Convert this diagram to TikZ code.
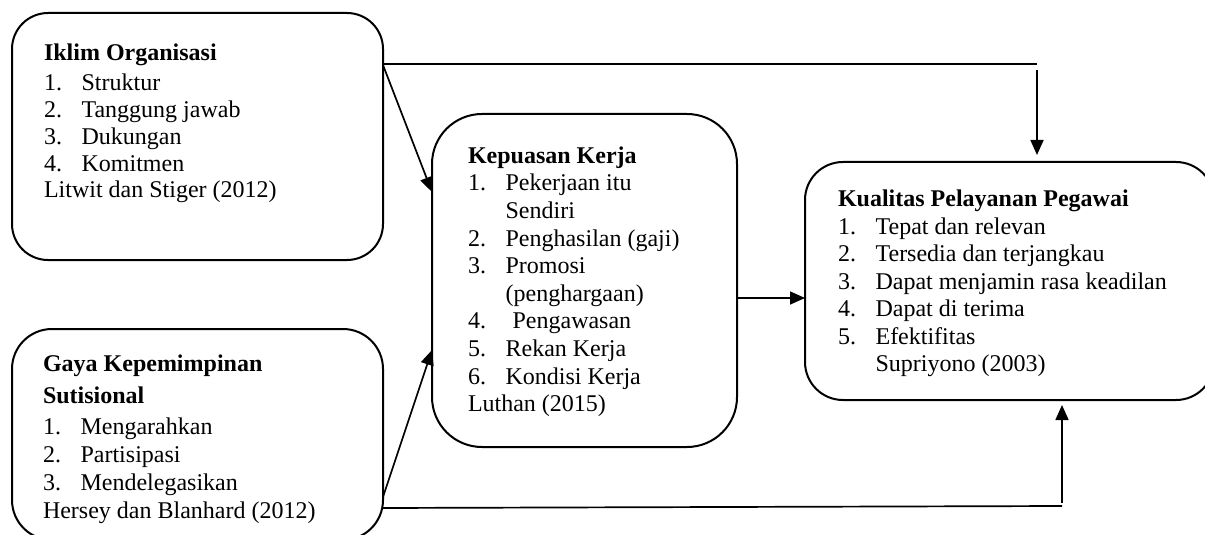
\documentclass[tikz,border=0pt]{standalone}
\usepackage{fontspec}
\setmainfont{Liberation Serif}
\usetikzlibrary{arrows.meta,calc}
\newcommand{\itm}[2]{\makebox[18.8pt][l]{#1}#2}
\newcommand{\cont}[1]{\hspace*{18.8pt}#1}
\begin{document}
\begin{tikzpicture}[x=0.5pt,y=-0.5pt,
  box/.style={draw=black,line width=1pt,inner sep=0pt,outer sep=0pt},
  txt/.style={inner sep=0pt,outer sep=0pt,align=left,anchor=base west},
  conn/.style={line width=0.85pt,draw=black},
  arr/.style={conn,-{Triangle[length=7.5pt,width=6.5pt]}}]
\useasboundingbox (0,0) rectangle (1205,535);
% boxes
\node[box,minimum width=185.5pt,minimum height=123.5pt,rounded corners=18pt] (A) at (197.5,136.5) {};
\node[box,minimum width=185.5pt,minimum height=105.5pt,rounded corners=20pt] (B) at (197.5,434.5) {};
\node[box,minimum width=152.5pt,minimum height=166.5pt,rounded corners=25pt] (C) at (584.5,280.5) {};
\node[box,minimum width=204.5pt,minimum height=119pt,rounded corners=19pt] (D) at (1009.5,281) {};
% texts (anchored at the baseline of their last line)
\node[txt,font=\fontsize{12}{13.35}\selectfont] (tA) at (44,197.7) {\textbf{Iklim Organisasi}\\[2pt]
\itm{1.}{Struktur}\\
\itm{2.}{Tanggung jawab}\\
\itm{3.}{Dukungan}\\
\itm{4.}{Komitmen}\\
Litwit dan Stiger (2012)};
\node[txt,font=\fontsize{12}{13.9}\selectfont] (tB) at (43,518.3) {\textbf{Gaya Kepemimpinan}\\[2pt]
\textbf{Sutisional}\\[2pt]
\itm{1.}{Mengarahkan}\\
\itm{2.}{Partisipasi}\\
\itm{3.}{Mendelegasikan}\\
Hersey dan Blanhard (2012)};
\node[txt,font=\fontsize{12}{13.8}\selectfont] (tC) at (468,411.7) {\textbf{Kepuasan Kerja}\\
\itm{1.}{Pekerjaan itu}\\
\cont{Sendiri}\\
\itm{2.}{Penghasilan (gaji)}\\
\itm{3.}{Promosi}\\
\cont{(penghargaan)}\\
\itm{4.}{\hspace{3.5pt}Pengawasan}\\
\itm{5.}{Rekan Kerja}\\
\itm{6.}{Kondisi Kerja}\\
Luthan (2015)};
\node[txt,font=\fontsize{12}{13.75}\selectfont] (tD) at (838,371.7) {\textbf{Kualitas Pelayanan Pegawai}\\
\itm{1.}{Tepat dan relevan}\\
\itm{2.}{Tersedia dan terjangkau}\\
\itm{3.}{Dapat menjamin rasa keadilan}\\
\itm{4.}{Dapat di terima}\\
\itm{5.}{Efektifitas}\\
\cont{Supriyono (2003)}};
% connectors
\coordinate (t1) at (1037,64);
\coordinate (t2) at (1037,70);
\coordinate (b1) at (1062,506);
\coordinate (b2) at (1062,503);
\coordinate (c1) at ($(C.east)+(0,-8.75pt)$);
\draw[arr] ($(A.north east)+(0,-26pt)$) -- ($(C.north west)+(0,-39pt)$);
\draw[conn] ($(A.north east)+(0,-25.5pt)$) -- (t1);
\draw[arr,shorten >=3.5pt] (t2) -- (t2 |- D.north);
\draw[arr] ($(B.north east)+(0,-84pt)$) -- ($(C.north west)+(0,-118pt)$);
\draw[conn] ($(B.north east)+(0,-89.5pt)$) -- (b1);
\draw[arr,shorten >=2.5pt] (b2) -- (b2 |- D.south);
\draw[arr] (c1) -- (c1 -| D.west);
\end{tikzpicture}
\end{document}
